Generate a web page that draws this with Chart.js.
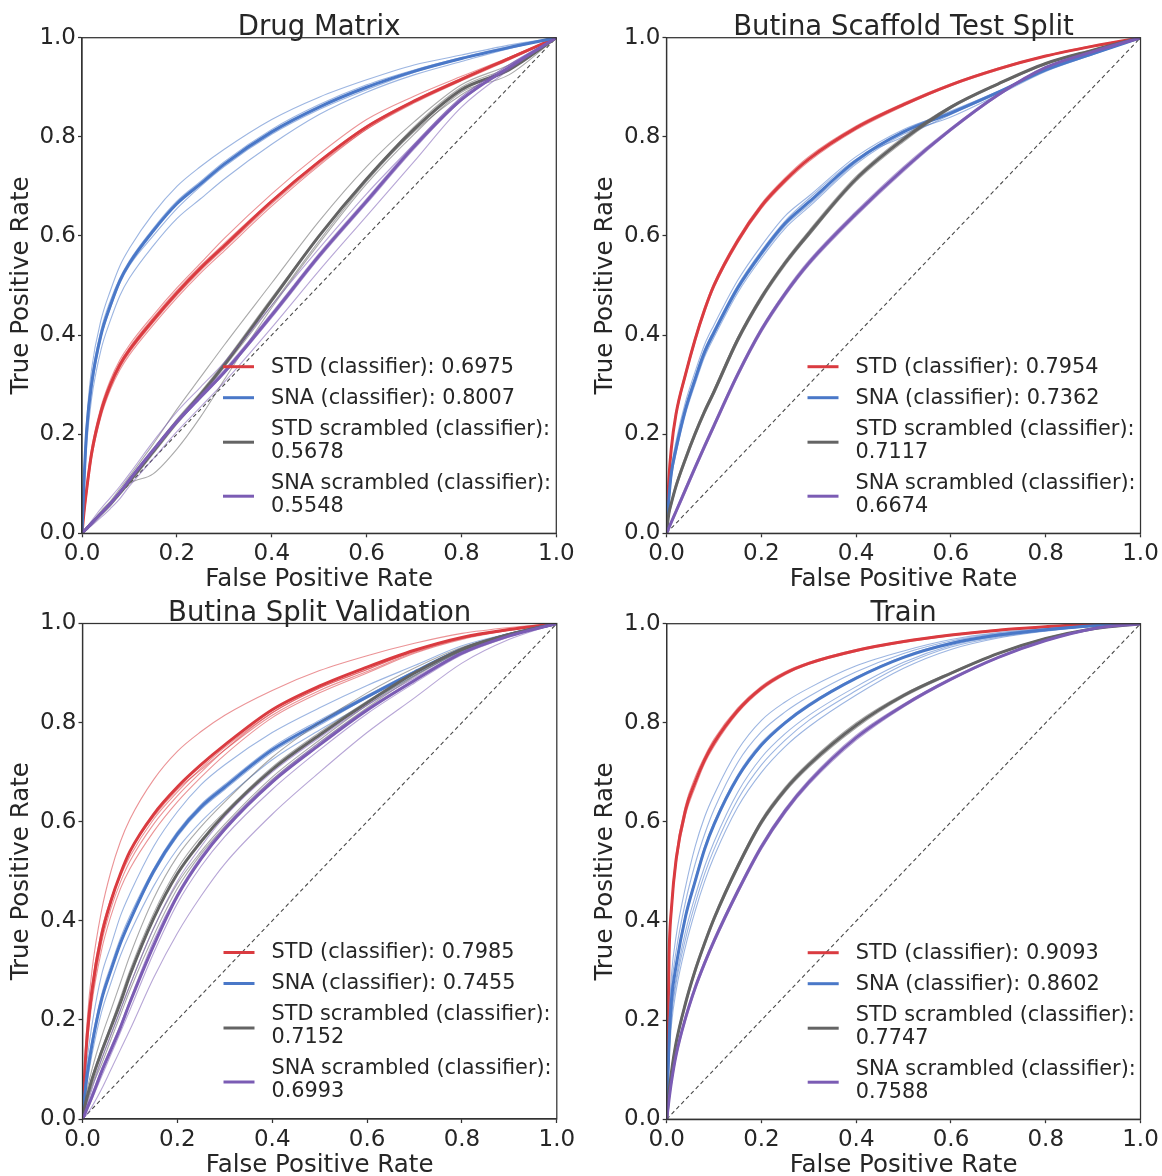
<!DOCTYPE html>
<html>
<head>
<meta charset="utf-8">
<title>ROC curves</title>
<script src="https://cdn.jsdelivr.net/npm/chart.js@4.4.1/dist/chart.umd.min.js"></script>
<style>
  html, body { margin: 0; padding: 0; background: #ffffff; }
  #wrap { position: relative; width: 1162px; height: 1176px; overflow: hidden; }
  #wrap canvas { position: absolute; left: 0; top: 0; }
</style>
</head>
<body>
<div id="wrap">
  <canvas id="c0" width="1162" height="1176"></canvas>
  <canvas id="c1" width="1162" height="1176"></canvas>
  <canvas id="c2" width="1162" height="1176"></canvas>
  <canvas id="c3" width="1162" height="1176"></canvas>
</div>
<script>
// ---- shared grid and labels ----
const fpr = [0, 0.005, 0.01, 0.02, 0.04, 0.06, 0.08, 0.1, 0.15, 0.2, 0.25, 0.3, 0.4, 0.5, 0.6, 0.7, 0.8, 0.9, 1];
const tickValues = [0, 0.2, 0.4, 0.6, 0.8, 1.0];
const seriesNames = ['STD (classifier)', 'SNA (classifier)', 'STD scrambled (classifier)', 'SNA scrambled (classifier)'];
const panelTitles = ['Drug Matrix', 'Butina Scaffold Test Split', 'Butina Split Validation', 'Train'];

// ---- Drug Matrix ----
const dmAuc = [0.6975, 0.8007, 0.5678, 0.5548];
const dmStd = [0, .05, .09, .16, .245, .30, .34, .37, .43, .485, .535, .58, .67, .75, .82, .872, .916, .958, 1];
const dmStdFolds = [
  [0, .055, .10, .17, .255, .31, .35, .38, .44, .495, .545, .595, .685, .765, .835, .882, .922, .96, 1],
  [0, .045, .085, .155, .24, .295, .335, .365, .425, .48, .53, .575, .665, .745, .815, .868, .913, .955, 1],
  [0, .05, .095, .165, .25, .305, .345, .375, .435, .49, .54, .585, .672, .752, .822, .874, .918, .957, 1],
  [0, .04, .08, .15, .235, .29, .33, .36, .42, .475, .525, .57, .66, .742, .815, .87, .915, .96, 1]
];
const dmSna = [0, .12, .21, .30, .40, .46, .51, .545, .61, .665, .705, .745, .81, .86, .90, .932, .958, .98, 1];
const dmSnaFolds = [
  [0, .14, .23, .33, .43, .49, .54, .575, .645, .70, .74, .775, .835, .88, .915, .945, .965, .985, 1],
  [0, .10, .18, .27, .37, .43, .48, .515, .58, .635, .675, .715, .785, .845, .89, .925, .952, .978, 1],
  [0, .13, .22, .31, .41, .47, .515, .55, .615, .67, .71, .75, .815, .865, .905, .935, .96, .982, 1],
  [0, .11, .20, .29, .395, .455, .505, .54, .60, .655, .70, .74, .805, .855, .895, .93, .957, .98, 1]
];
const dmStdScr = [0, .005, .01, .02, .04, .06, .082, .105, .165, .225, .28, .34, .47, .60, .715, .815, .895, .935, 1];
const dmStdScrFolds = [
  [0, .005, .01, .02, .04, .06, .08, .10, .12, .17, .235, .31, .455, .585, .705, .805, .89, .925, 1],
  [0, .006, .012, .022, .045, .065, .09, .115, .18, .25, .315, .38, .505, .63, .74, .83, .905, .945, 1],
  [0, .005, .01, .02, .038, .058, .08, .105, .17, .23, .285, .345, .475, .60, .715, .82, .9, .94, 1],
  [0, .004, .009, .018, .036, .055, .078, .10, .16, .22, .275, .335, .46, .59, .71, .81, .885, .935, 1]
];
const dmSnaScr = [0, .005, .01, .02, .04, .06, .083, .108, .168, .225, .275, .325, .44, .56, .67, .78, .875, .94, 1];
const dmSnaScrFolds = [
  [0, .006, .012, .025, .05, .072, .095, .12, .185, .245, .295, .345, .46, .575, .685, .785, .88, .945, 1],
  [0, .003, .007, .015, .032, .05, .07, .095, .15, .205, .255, .305, .415, .53, .64, .75, .86, .935, 1],
  [0, .005, .01, .02, .04, .06, .085, .11, .17, .228, .28, .33, .445, .565, .675, .785, .88, .945, 1],
  [0, .004, .009, .019, .038, .058, .08, .105, .165, .222, .272, .322, .435, .555, .665, .775, .873, .94, 1]
];

// ---- Butina Scaffold Test Split ----
const bsAuc = [0.7954, 0.7362, 0.7117, 0.6674];
const bsStd = [0, .11, .17, .24, .32, .39, .45, .50, .59, .66, .712, .755, .818, .865, .905, .937, .963, .983, 1];
const bsStdFolds = [
  [0, .115, .175, .245, .325, .395, .455, .505, .595, .665, .717, .76, .822, .868, .907, .939, .964, .984, 1],
  [0, .105, .165, .235, .315, .385, .445, .495, .585, .655, .707, .75, .814, .862, .903, .935, .962, .982, 1]
];
const bsSna = [0, .07, .12, .17, .25, .31, .365, .405, .495, .565, .625, .668, .752, .81, .848, .89, .935, .968, 1];
const bsSnaFolds = [
  [0, .08, .13, .185, .265, .325, .38, .42, .51, .58, .64, .68, .76, .815, .85, .89, .935, .968, 1],
  [0, .06, .11, .16, .24, .30, .355, .395, .485, .555, .615, .658, .745, .805, .84, .885, .932, .966, 1],
  [0, .075, .125, .175, .255, .315, .37, .41, .50, .57, .63, .675, .755, .80, .845, .888, .934, .967, 1],
  [0, .065, .115, .165, .245, .305, .36, .40, .49, .56, .62, .662, .748, .812, .852, .892, .936, .969, 1]
];
const bsStdScr = [0, .04, .06, .095, .15, .20, .245, .285, .39, .475, .545, .605, .715, .795, .86, .907, .948, .975, 1];
const bsStdScrFolds = [
  [0, .045, .065, .10, .155, .205, .25, .29, .395, .48, .55, .61, .72, .80, .862, .908, .949, .976, 1],
  [0, .035, .055, .09, .145, .195, .24, .28, .385, .47, .54, .60, .71, .79, .857, .905, .946, .974, 1],
  [0, .04, .06, .095, .15, .20, .245, .29, .395, .475, .545, .60, .715, .795, .86, .906, .947, .975, 1]
];
const bsSnaScr = [0, .011, .022, .044, .088, .132, .175, .217, .32, .41, .483, .545, .645, .735, .815, .885, .94, .972, 1];
const bsSnaScrFolds = [
  [0, .013, .025, .048, .093, .137, .18, .222, .325, .415, .488, .55, .65, .74, .818, .887, .941, .973, 1],
  [0, .009, .019, .04, .083, .127, .17, .212, .315, .405, .478, .54, .64, .73, .812, .883, .939, .971, 1]
];

// ---- Butina Split Validation ----
const bvAuc = [0.7985, 0.7455, 0.7152, 0.6993];
const bvStd = [0, .10, .17, .26, .37, .44, .495, .54, .615, .67, .715, .755, .826, .874, .912, .946, .972, .988, 1];
const bvStdFolds = [
  [0, .12, .20, .30, .42, .50, .56, .605, .685, .742, .782, .815, .865, .905, .935, .96, .98, .992, 1],
  [0, .10, .17, .26, .37, .44, .49, .53, .605, .66, .708, .75, .82, .87, .907, .944, .97, .987, 1],
  [0, .085, .15, .235, .34, .41, .465, .505, .58, .64, .69, .735, .81, .86, .90, .94, .968, .986, 1],
  [0, .11, .18, .27, .38, .445, .495, .54, .61, .665, .705, .745, .815, .865, .903, .942, .97, .987, 1],
  [0, .09, .16, .245, .355, .425, .478, .52, .595, .652, .70, .745, .82, .87, .907, .945, .971, .988, 1]
];
const bvSna = [0, .05, .09, .15, .24, .30, .355, .40, .50, .575, .63, .67, .745, .80, .852, .902, .948, .978, 1];
const bvSnaFolds = [
  [0, .07, .12, .19, .29, .35, .41, .455, .55, .62, .675, .715, .78, .83, .875, .915, .955, .98, 1],
  [0, .05, .09, .15, .24, .30, .355, .40, .495, .57, .625, .665, .74, .795, .85, .90, .946, .977, 1],
  [0, .04, .075, .13, .215, .275, .33, .375, .47, .545, .60, .645, .725, .785, .84, .895, .944, .976, 1],
  [0, .055, .10, .16, .25, .31, .365, .41, .505, .58, .635, .675, .75, .805, .855, .904, .95, .979, 1]
];
const bvStdScr = [0, .025, .045, .08, .135, .185, .235, .29, .405, .495, .56, .615, .705, .775, .84, .90, .948, .978, 1];
const bvStdScrFolds = [
  [0, .035, .06, .10, .165, .22, .275, .33, .445, .53, .59, .64, .73, .80, .86, .91, .952, .98, 1],
  [0, .02, .04, .07, .12, .17, .22, .27, .385, .475, .54, .595, .69, .765, .835, .895, .945, .977, 1],
  [0, .03, .05, .085, .14, .19, .245, .30, .415, .505, .57, .62, .71, .78, .843, .902, .949, .979, 1],
  [0, .02, .035, .065, .11, .16, .21, .26, .37, .465, .535, .59, .685, .76, .83, .893, .944, .976, 1]
];
const bvSnaScr = [0, .01, .022, .045, .095, .14, .185, .235, .35, .45, .525, .585, .68, .755, .825, .885, .94, .975, 1];
const bvSnaScrFolds = [
  [0, .015, .03, .06, .12, .17, .22, .27, .385, .48, .55, .61, .70, .77, .835, .89, .942, .976, 1],
  [0, .005, .01, .025, .06, .10, .14, .18, .285, .375, .45, .515, .615, .70, .78, .85, .92, .968, 1],
  [0, .012, .025, .05, .10, .145, .19, .24, .36, .455, .53, .59, .685, .76, .828, .887, .941, .975, 1],
  [0, .008, .018, .04, .085, .13, .175, .22, .335, .435, .51, .57, .665, .745, .818, .88, .937, .973, 1]
];

// ---- Train ----
const trAuc = [0.9093, 0.8602, 0.7747, 0.7588];
const trStd = [0, .33, .425, .525, .625, .68, .725, .76, .825, .87, .90, .92, .946, .964, .977, .987, .994, .999, 1];
const trStdFolds = [
  [0, .34, .435, .535, .635, .69, .732, .767, .83, .874, .903, .922, .948, .965, .978, .988, .995, .999, 1],
  [0, .32, .415, .515, .615, .67, .718, .753, .82, .866, .897, .918, .944, .962, .976, .986, .994, .998, 1],
  [0, .335, .428, .528, .622, .677, .722, .758, .822, .868, .899, .919, .946, .963, .977, .987, .994, .999, 1]
];
const trSna = [0, .16, .24, .31, .41, .48, .545, .595, .69, .755, .80, .835, .89, .932, .96, .977, .988, .996, 1];
const trSnaFolds = [
  [0, .20, .29, .37, .47, .55, .61, .655, .745, .805, .842, .87, .915, .945, .968, .982, .99, .997, 1],
  [0, .18, .265, .34, .44, .515, .575, .625, .72, .782, .822, .853, .903, .94, .965, .98, .989, .996, 1],
  [0, .165, .245, .315, .415, .485, .55, .60, .695, .76, .803, .838, .892, .934, .962, .978, .988, .996, 1],
  [0, .14, .215, .285, .38, .45, .51, .56, .66, .73, .778, .815, .873, .922, .956, .975, .987, .995, 1],
  [0, .12, .19, .26, .35, .42, .48, .53, .63, .70, .752, .792, .856, .91, .948, .971, .985, .995, 1],
  [0, .13, .205, .275, .365, .435, .495, .545, .645, .715, .765, .805, .865, .917, .953, .973, .986, .995, 1]
];
const trStdScr = [0, .055, .095, .155, .235, .30, .355, .405, .51, .60, .665, .715, .795, .855, .90, .94, .97, .99, 1];
const trStdScrFolds = [
  [0, .06, .10, .16, .24, .305, .36, .41, .515, .605, .67, .72, .80, .858, .902, .941, .971, .99, 1],
  [0, .05, .09, .15, .23, .295, .35, .40, .505, .595, .66, .71, .79, .852, .898, .939, .969, .989, 1]
];
const trSnaScr = [0, .04, .075, .13, .205, .265, .315, .36, .46, .55, .622, .68, .77, .835, .888, .932, .966, .99, 1];
const trSnaScrFolds = [
  [0, .045, .08, .135, .21, .27, .32, .365, .465, .555, .627, .685, .775, .838, .89, .933, .967, .99, 1],
  [0, .035, .07, .125, .20, .26, .31, .355, .455, .545, .617, .675, .765, .832, .886, .931, .965, .989, 1]
];

// ---- panel assembly ----
const panels = [
  { title: panelTitles[0], auc: dmAuc, means: [dmStd, dmSna, dmStdScr, dmSnaScr],
    folds: [dmStdFolds, dmSnaFolds, dmStdScrFolds, dmSnaScrFolds],
    area: { left: 82, top: 37.7, right: 556.3, bottom: 533.3 } },
  { title: panelTitles[1], auc: bsAuc, means: [bsStd, bsSna, bsStdScr, bsSnaScr],
    folds: [bsStdFolds, bsSnaFolds, bsStdScrFolds, bsSnaScrFolds],
    area: { left: 666.5, top: 37.7, right: 1140.8, bottom: 533.3 } },
  { title: panelTitles[2], auc: bvAuc, means: [bvStd, bvSna, bvStdScr, bvSnaScr],
    folds: [bvStdFolds, bvSnaFolds, bvStdScrFolds, bvSnaScrFolds],
    area: { left: 82.5, top: 623.5, right: 556.8, bottom: 1119 } },
  { title: panelTitles[3], auc: trAuc, means: [trStd, trSna, trStdScr, trSnaScr],
    folds: [trStdFolds, trSnaFolds, trStdScrFolds, trSnaScrFolds],
    area: { left: 666.7, top: 623.7, right: 1141, bottom: 1119.2 } }
];

// ---- styling ----
const seriesColors = ['#da3b40', '#4a78c8', '#646464', '#7b5cb4'];
const textColor = '#262626';
const spineColor = '#333333';
const FONT = '"DejaVu Sans", "Liberation Sans", sans-serif';
const CANVAS_W = 1162, CANVAS_H = 1176;
const Y_AXIS_W = 76.7;   // room for tick labels and the rotated axis title
const X_AXIS_H = 56.4;   // room for tick labels and the axis title

function rgba(hex, a) {
  const n = parseInt(hex.slice(1), 16);
  return `rgba(${(n >> 16) & 255}, ${(n >> 8) & 255}, ${n & 255}, ${a})`;
}
function toPoints(ys) {
  return ys.map((y, i) => ({ x: fpr[i], y: y }));
}

// Axes frame (top/right spines) and panel title
const framePlugin = {
  id: 'frameAndTitle',
  afterDatasetsDraw(chart, args, opts) {
    const { ctx, chartArea: a } = chart;
    ctx.save();
    ctx.strokeStyle = spineColor;
    ctx.lineWidth = 1.25;
    ctx.strokeRect(a.left, a.top, a.right - a.left, a.bottom - a.top);
    ctx.fillStyle = textColor;
    ctx.font = '27.5px ' + FONT;
    ctx.textAlign = 'center';
    ctx.textBaseline = 'alphabetic';
    ctx.fillText(opts.text, (a.left + a.right) / 2, a.top - 3);
    ctx.restore();
  }
};

// Legend drawn inside the axes, lower right, with wrapped long entries
const legendPlugin = {
  id: 'rocLegend',
  afterDraw(chart, args, opts) {
    const { ctx, chartArea: a } = chart;
    ctx.save();
    ctx.font = '20.8px ' + FONT;
    ctx.textAlign = 'left';
    ctx.textBaseline = 'middle';
    let y = a.top + 329.5;
    opts.entries.forEach(entry => {
      const lines = entry.lines;
      const mid = y + (lines.length - 1) * 23 / 2 + (lines.length > 1 ? 1.5 : -0.5);
      ctx.strokeStyle = entry.color;
      ctx.lineWidth = 3;
      ctx.lineCap = 'butt';
      ctx.beginPath();
      ctx.moveTo(a.left + 141, mid);
      ctx.lineTo(a.left + 172, mid);
      ctx.stroke();
      ctx.fillStyle = textColor;
      lines.forEach((t, i) => ctx.fillText(t, a.left + 189, y + i * 23));
      y += (lines.length - 1) * 23 + 31;
    });
    ctx.restore();
  }
};

function buildDatasets(panel) {
  const sets = [];
  sets.push({
    data: [{ x: 0, y: 0 }, { x: 1, y: 1 }],
    borderColor: '#4a4a4a', borderWidth: 1.1, borderDash: [4, 3],
    pointRadius: 0, fill: false
  });
  panel.means.forEach((mean, k) => {
    panel.folds[k].forEach(f => {
      sets.push({
        data: toPoints(f), borderColor: rgba(seriesColors[k], 0.55), borderWidth: 1.1,
        pointRadius: 0, fill: false, cubicInterpolationMode: 'monotone'
      });
    });
    sets.push({
      data: toPoints(mean), borderColor: seriesColors[k], borderWidth: 3,
      pointRadius: 0, fill: false, cubicInterpolationMode: 'monotone'
    });
  });
  // later series are painted over earlier ones
  sets.forEach((s, i) => { s.order = -i; });
  return sets;
}

function legendEntries(panel) {
  return seriesNames.map((name, k) => {
    const value = panel.auc[k].toFixed(4);
    const full = name + ': ' + value;
    const lines = name.indexOf('scrambled') >= 0 ? [name + ':', value] : [full];
    return { lines: lines, color: seriesColors[k] };
  });
}

function axisTicks(scale) {
  scale.ticks = tickValues.map(v => ({ value: v }));
}

Chart.defaults.font.family = FONT;
Chart.defaults.color = textColor;

panels.forEach((panel, idx) => {
  const a = panel.area;
  new Chart(document.getElementById('c' + idx), {
    type: 'line',
    data: { datasets: buildDatasets(panel) },
    plugins: [framePlugin, legendPlugin],
    options: {
      responsive: false,
      animation: false,
      events: [],
      devicePixelRatio: 1,
      layout: {
        padding: {
          left: a.left - Y_AXIS_W,
          top: a.top,
          right: CANVAS_W - a.right,
          bottom: CANVAS_H - a.bottom - X_AXIS_H
        }
      },
      plugins: {
        legend: { display: false },
        tooltip: { enabled: false },
        title: { display: false },
        frameAndTitle: { text: panel.title },
        rocLegend: { entries: legendEntries(panel) }
      },
      scales: {
        x: {
          type: 'linear', min: 0, max: 1,
          afterBuildTicks: axisTicks,
          afterFit: s => { s.height = X_AXIS_H; },
          grid: { display: true, drawOnChartArea: false, drawTicks: true, tickLength: 4, tickColor: spineColor, tickWidth: 1.25 },
          border: { display: true, color: spineColor, width: 1.25 },
          ticks: { font: { size: 23, lineHeight: 1.2 }, color: textColor, padding: 3.2, maxRotation: 0,
                   callback: v => Number(v).toFixed(1) },
          title: { display: true, text: 'False Positive Rate', color: textColor,
                   font: { size: 24.5, lineHeight: 0.8163 }, padding: { top: 6, bottom: 0 } }
        },
        y: {
          type: 'linear', min: 0, max: 1,
          afterBuildTicks: axisTicks,
          afterFit: s => { s.width = Y_AXIS_W; },
          grid: { display: true, drawOnChartArea: false, drawTicks: true, tickLength: 4, tickColor: spineColor, tickWidth: 1.25 },
          border: { display: true, color: spineColor, width: 1.25 },
          ticks: { font: { size: 23, lineHeight: 1.2 }, color: textColor, padding: 2,
                   callback: v => Number(v).toFixed(1) },
          title: { display: true, text: 'True Positive Rate', color: textColor,
                   font: { size: 24.5, lineHeight: 0.8163 }, padding: { top: 6, bottom: 0 } }
        }
      }
    }
  });
});
</script>
</body>
</html>
